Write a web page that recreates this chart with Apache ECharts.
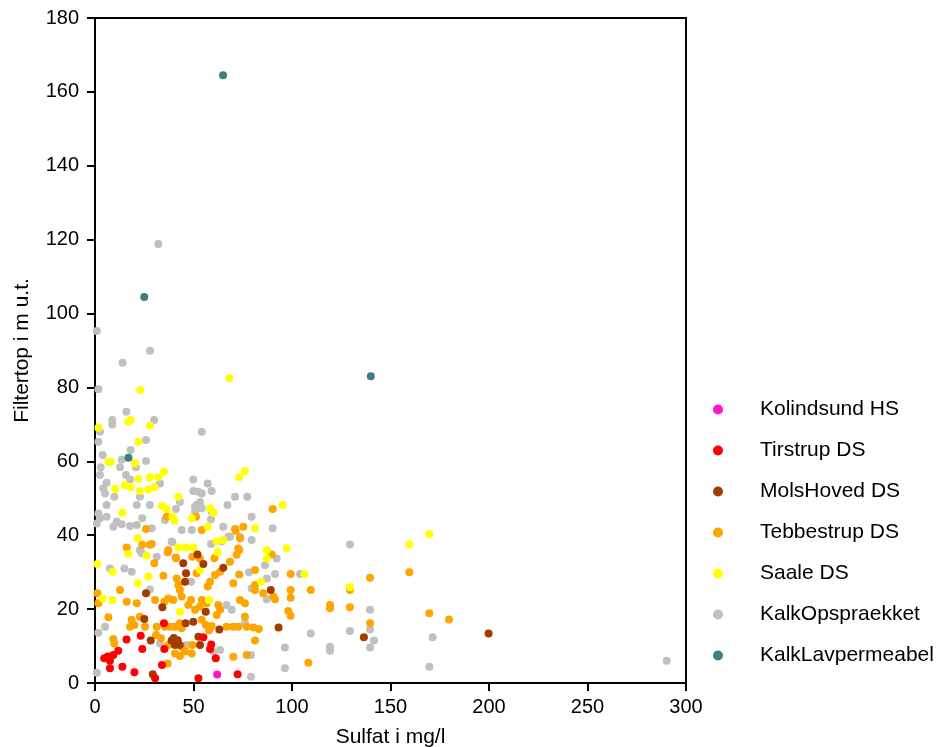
<!DOCTYPE html>
<html><head><meta charset="utf-8">
<script src="https://cdn.jsdelivr.net/npm/echarts@6/dist/echarts.min.js"></script>
<style>html,body{margin:0;padding:0;background:#fff}#c{width:941px;height:747px}</style>
</head><body><div id="c"></div>
<script>
const legendOrder = ["Kolindsund HS","Tirstrup DS","MolsHoved DS","Tebbestrup DS","Saale DS","KalkOpspraekket","KalkLavpermeabel"];
const xTicks = [0,50,100,150,200,250,300];
const yTicks = [0,20,40,60,80,100,120,140,160,180];

const kolindsund = [[62,2.3]];
const tirstrup = [[4.7,6.7],[6.5,7.2],[7.6,6],[7.6,4],[9.3,7.6],[11.8,8.7],[13.9,4.4],[16,11.8],[20,2.9],[23.2,12.8],[24,9.2],[30.5,1.3],[34,4.9],[35.2,9.2],[35,16.2],[52.5,1.3],[55,12.4],[58.4,9.2],[59,10.4],[61.3,6.7],[72.4,2.4]];
const molsHoved = [[52,34.8],[44.8,32.4],[55,32.2],[46.2,29.7],[45.7,27.4],[25.9,24.3],[65.1,31.2],[34.2,20.5],[56.2,19.3],[25,17.3],[46,16.2],[49.9,16.6],[63.1,14.5],[40,12.2],[42,11.6],[40.6,10.3],[43,10.3],[38.9,11.5],[52.5,12.5],[53.3,10.3],[28.3,11.5],[29.3,2.4],[93.2,15],[136.5,12.4],[199.8,13.4],[89.2,25.2]];
const tebbestrup = [[36.4,45],[51.3,45],[25.9,41.7],[75.3,42.3],[71.1,41.7],[54.2,41.4],[37.2,36],[72.7,36.4],[28.8,37.6],[90.2,47.1],[89.7,34.8],[159.6,30],[169.7,18.9],[179.7,17.2],[81.2,30.6],[99.3,29.5],[139.6,28.5],[81.2,26.5],[81.2,25.2],[85.4,24.3],[90.5,23.4],[91.4,22.7],[99.3,25.2],[99.3,23.1],[109.5,25.2],[129.4,25.2],[119.3,21.1],[119.3,20.2],[129.4,20.5],[98.1,19.5],[99.3,18.2],[139.6,16.2],[77,15.2],[80.4,15],[83.2,14.6],[81.2,11.5],[77,7.6],[108.3,5.5],[16.1,36.7],[24,37.4],[27.9,37.4],[36.9,35.4],[41,34],[71.4,41.2],[73.6,39.2],[73.2,36],[71.9,34.7],[60.6,33.8],[68.5,32.8],[49.4,34.2],[53.3,33.6],[51.6,29.7],[30.1,32.4],[41.1,33.8],[34.7,29],[41.5,28.3],[42.3,26.5],[43.1,25.2],[44,23.4],[63.5,30.1],[60.9,29.2],[58.4,27.4],[57.2,26.1],[73.2,29.4],[70.2,27],[12.7,25.2],[1.2,24.3],[1.7,21.6],[16.1,22],[21.2,21.6],[30.5,22.5],[35.2,22],[37.2,22.9],[39.7,22.5],[48.7,22.5],[47.4,21.1],[54.2,22.5],[56.7,21.6],[50.8,19.8],[53.3,20.7],[62.6,21.1],[63.5,19.8],[61.8,18.4],[73.6,22.5],[76.1,21.6],[76.1,17.9],[6.8,17.8],[18.6,17.1],[20,15.7],[17.8,15.2],[22.8,17.9],[25.4,15.2],[31.3,15.2],[35.5,15.2],[38.1,15.2],[40.6,15.2],[43.1,16.2],[44,14.8],[54.2,17.1],[56.2,15.7],[57.9,14.3],[59.2,15.4],[66.8,15.2],[70.2,15.2],[72.7,15.2],[9.3,11.9],[9.8,10.7],[31,13],[33.5,12.1],[37.2,10.3],[44,9.8],[45.7,8.5],[49.4,10.3],[40.6,8],[43.1,7.3],[49.1,8],[70.2,7.1],[36.9,5.3]];
const saale = [[68.2,82.5],[23,79.3],[1.7,69.1],[16.9,70.7],[18.1,71.2],[27.9,69.6],[22,65.3],[6.8,59.9],[8.1,59.9],[20.3,59.5],[35,57.2],[22,55.2],[27.9,55.7],[32.1,55.7],[10.2,52.5],[15.2,53.6],[18.1,53],[22.8,52],[27.1,52.4],[30.1,53],[42.3,50.4],[33.9,48],[36.4,47.1],[13.9,46.1],[39.3,45],[40.3,43.9],[49.1,44.6],[58.4,47.3],[60.1,46.1],[57.2,42.3],[73.2,55.7],[76.1,57.4],[95.3,48.2],[81.2,41.9],[61.8,38.3],[65.1,38.7],[42.3,36.7],[46.2,36.7],[49.9,36.7],[87.2,36],[97.3,36.5],[87.2,33.7],[159.6,37.5],[169.7,40.3],[106.3,29.5],[84.3,27.4],[129.4,25.9],[21.7,39.2],[16.9,34.9],[26.2,34.5],[27.1,28.8],[9,30.1],[1.2,32.2],[62.3,35.4],[53.3,30.6],[21.7,27],[3.9,22.9],[8.8,22.5],[43.1,19.3],[57.9,22.5]];
const kalkOpspraekket = [[32.1,118.8],[0.9,95.3],[27.9,89.9],[14,86.7],[1.7,79.5],[15.9,73.4],[8.8,71.2],[8.8,70],[30,71.2],[2.5,68],[1.7,65.3],[54.2,68],[25.9,65.8],[18.1,63.1],[3.9,61.7],[13.5,60.4],[12.7,58.4],[25.9,60.1],[2.9,58.4],[20.8,58.4],[2.5,56.3],[15.7,56.3],[17.8,55.1],[5.9,54.2],[4.2,52.7],[5.1,51.3],[9.8,50.4],[22.8,50.4],[33,54],[49.9,55.1],[57.2,54],[49.9,52],[52.4,51.8],[54.2,51.3],[59.2,52],[43.1,49],[53.3,49],[50.8,47.7],[54.2,47.3],[71.1,50.4],[77.3,50.4],[67.2,48.2],[5.9,48.2],[1.7,45.9],[2.5,44.6],[5.9,45],[0.9,43.2],[21.2,48.2],[27.9,48.2],[35.5,44.1],[44,41.4],[24,44.6],[21.2,42.8],[17.8,42.5],[11,43.7],[9.3,42.3],[13.5,43],[59.2,46.4],[58.9,44.3],[65.1,42.3],[79.5,45],[51.6,48.2],[50.8,46.4],[41.1,47.1],[49.1,41.4],[67.7,39.6],[64.3,38.3],[73.6,39.6],[38.9,38.3],[28.8,41.9],[90.2,41.9],[129.4,37.5],[92.2,33.7],[171.4,12.4],[169.7,4.4],[290.2,6],[86.3,31.9],[78.2,30],[87.2,28.3],[91.4,29.5],[104.1,29.5],[87.2,22.7],[139.6,19.8],[139.6,14.5],[129.4,14.1],[109.5,13.4],[76.1,16.2],[141.6,11.5],[139.6,9.6],[119.3,9.8],[119.3,8.7],[96.4,9.6],[79.2,7.6],[96.4,4],[79.2,1.7],[39.3,38.1],[22.8,36],[23.7,35.1],[31.3,34.2],[7.6,31],[14.9,31],[18.6,30.1],[48.7,27.4],[27.9,25.3],[58.9,37.6],[68.5,39.6],[79.5,38.7],[79.5,25.6],[66.8,21.1],[69.4,19.8],[5.1,15.2],[1.7,13.6],[46.5,10.3],[60,8.5],[63.5,8.9],[0.9,2.8],[33,10.7]];
const kalkLavpermeabel = [[65,164.5],[25,104.5],[140,83],[17,61]];

const FONT = 'Liberation Sans';
const chart = echarts.init(document.getElementById('c'), null, {renderer:'canvas'});
function mk(name, data, color, z){
  return {name, type:'scatter', data, symbol:'circle', symbolSize:8, z,
    itemStyle:{color, opacity:1}, emphasis:{disabled:true}, animation:false};
}
const axisCommon = {
  axisLine:{show:true, onZero:false, lineStyle:{color:'#000', width:2}},
  axisTick:{show:true, inside:false, length:8, lineStyle:{color:'#000', width:2}},
  splitLine:{show:false},
  nameTextStyle:{fontSize:21, color:'#000', fontFamily:FONT},
};
chart.setOption({
  animation:false,
  backgroundColor:'#fff',
  grid:{left:95, right:255, top:18, bottom:64, show:true, borderColor:'#000', borderWidth:2,
    containLabel:false, outerBoundsMode:'none'},
  xAxis:Object.assign({}, axisCommon, {type:'value', min:xTicks[0], max:xTicks[xTicks.length-1], interval:50,
    name:'Sulfat i mg/l', nameLocation:'middle', nameGap:44,
    axisLabel:{fontSize:20, color:'#000', fontFamily:FONT, margin:14}}),
  yAxis:Object.assign({}, axisCommon, {type:'value', min:yTicks[0], max:yTicks[yTicks.length-1], interval:20,
    name:'Filtertop i m u.t.', nameLocation:'middle', nameGap:62, nameRotate:90,
    axisLabel:{fontSize:20, color:'#000', fontFamily:FONT, margin:16}}),
  legend:{orient:'vertical', left:708, top:394, itemWidth:10, itemHeight:10, itemGap:20,
    icon:'circle', data:legendOrder, selectedMode:false,
    formatter: n => '{t|' + n + '}',
    textStyle:{color:'#000', fontFamily:FONT, fontSize:21,
      rich:{t:{fontSize:21, fontFamily:FONT, color:'#000', lineHeight:22, padding:[0,0,0,32]}}}},
  series:[
    mk('KalkOpspraekket', kalkOpspraekket, '#c0c0c0', 2),
    mk('Tebbestrup DS', tebbestrup, '#ffa500', 3),
    mk('Saale DS', saale, '#ffff00', 4),
    mk('MolsHoved DS', molsHoved, '#a33c00', 5),
    mk('Tirstrup DS', tirstrup, '#ff0000', 6),
    mk('Kolindsund HS', kolindsund, '#ff14c8', 7),
    mk('KalkLavpermeabel', kalkLavpermeabel, '#3d7f80', 8)
  ]
});
</script>
</body></html>
